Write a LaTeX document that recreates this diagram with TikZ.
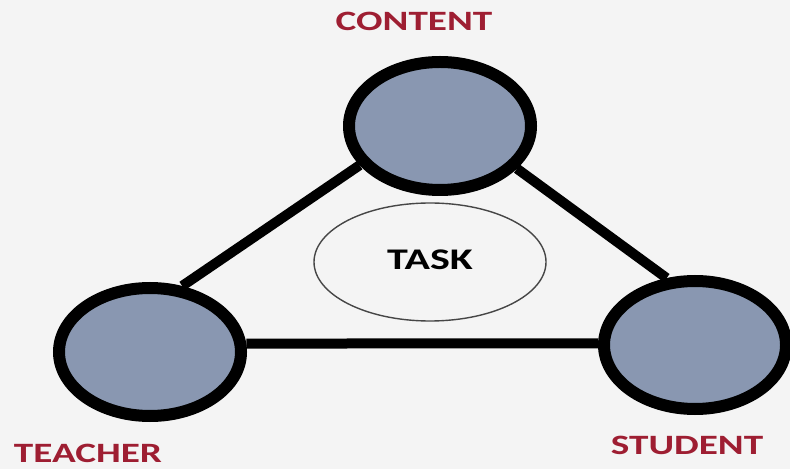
\documentclass[tikz,border=0pt]{standalone}
\usepackage{fontspec}
\usepackage{tikz}
\usetikzlibrary{shapes.geometric}
\usepackage{xcolor}
\newfontfamily\LabelFont[FakeStretch=1.4]{Carlito}
\definecolor{ColBack}{RGB}{244,244,244}
\definecolor{ColFill}{RGB}{137,151,177}
\definecolor{ColText}{RGB}{158,30,50}
\definecolor{ColTask}{RGB}{70,70,70}
\tikzstyle{NodeCorner}=[ellipse,draw=black,fill=ColFill,line width=6pt,inner sep=0pt,
minimum width=91pt,minimum height=64pt]
\tikzstyle{NodeTask}=[ellipse,draw=ColTask,line width=0.7pt,inner sep=0pt,
minimum width=116pt,minimum height=59pt]
\tikzstyle{LabelCorner}=[font=\LabelFont\bfseries\fontsize{14}{16}\selectfont,text=ColText,inner sep=0pt]
\tikzstyle{EdgeCorner}=[black,line width=5pt]

\begin{document}
\begin{tikzpicture}[x=0.5pt,y=-0.5pt]
        \fill[ColBack](0,0)rectangle(790,469);
        \useasboundingbox(0,0)rectangle(790,469);
        \node[NodeCorner](content)at(440,126){};
        \node[NodeCorner](teacher)at(150,352){};
        \node[NodeCorner](student)at(695,345){};
        \node[NodeTask](task)at(430,262){};
        \node[font=\LabelFont\bfseries\fontsize{15}{17}\selectfont,inner sep=0pt](tasklabel)at(430,260){TASK};
        \node[LabelCorner](contentlabel)at(414,21){CONTENT};
        \node[LabelCorner](teacherlabel)at(88,453){TEACHER};
        \node[LabelCorner](studentlabel)at(687,445){STUDENT};
        \draw[EdgeCorner](content.206)--(teacher.64);
        \draw[EdgeCorner](content.331)--(student.113);
        \draw[EdgeCorner](teacher.5)--(student.179);
    \end{tikzpicture}
\end{document}
